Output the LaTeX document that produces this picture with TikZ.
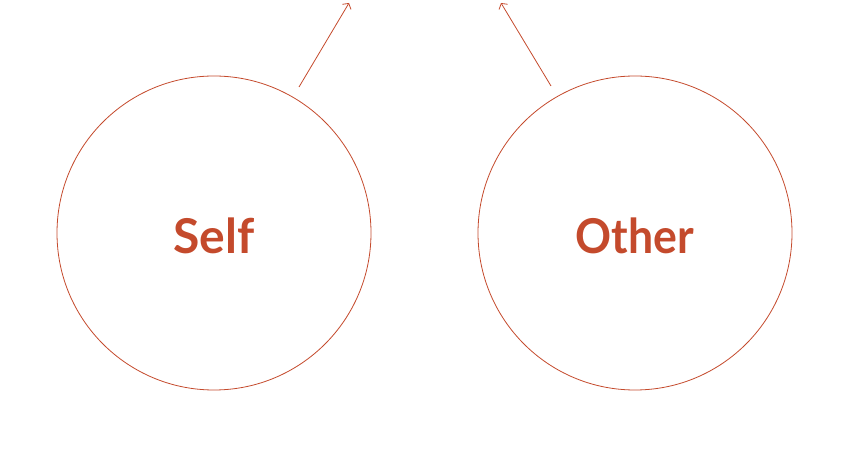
\documentclass[tikz,border=0pt]{standalone}
\usepackage{fontspec}
\setmainfont{Lato}
\usetikzlibrary{arrows.meta}
\definecolor{rust}{HTML}{C44A2C}
\begin{document}
\begin{tikzpicture}[x=1pt,y=1pt, every node/.style={text=rust,font=\bfseries\fontsize{48}{54}\selectfont}]
\useasboundingbox (0,0) rectangle (850,449);
\tikzset{agent/.style={draw=rust,circle,minimum size=314pt,inner sep=0pt,line width=0.8pt},
  link/.style={-{Straight Barb[length=4pt,width=10pt]}, draw=rust, line width=0.8pt}}
\node[agent] (self) at (214,216) {\raisebox{-3pt}[\height][\depth]{Self}};
\node[agent] (other) at (635,216) {\raisebox{-3pt}[\height][\depth]{\scalebox{0.93}[1]{Other}}};
\coordinate (selfout) at (299,362);
\coordinate (selftip) at (349,446);
\coordinate (otherout) at (551,363);
\coordinate (othertip) at (501,446);
\draw[link] (selfout)--(selftip);
\draw[link] (otherout)--(othertip);
\end{tikzpicture}
\end{document}
